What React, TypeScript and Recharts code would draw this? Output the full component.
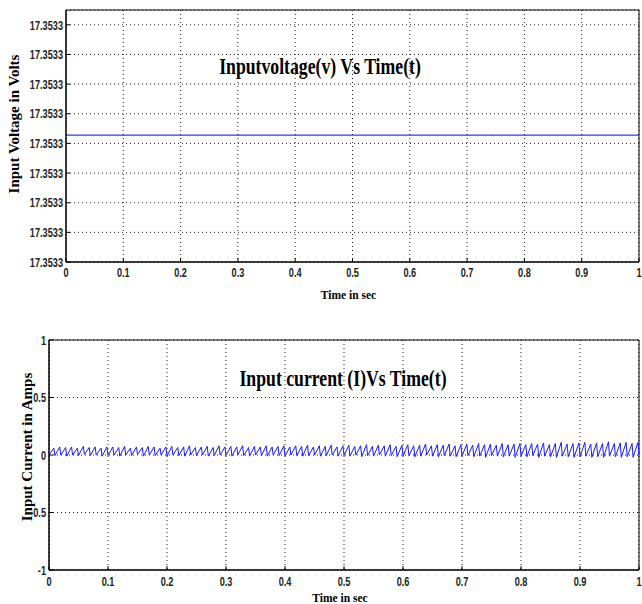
import React from "react";
import { CartesianGrid, Label, Line, LineChart, ReferenceArea, XAxis, YAxis } from "recharts";

// time axis (seconds), shared by both plots
const timeTicks = [0, 0.1, 0.2, 0.3, 0.4, 0.5, 0.6, 0.7, 0.8, 0.9, 1];

// input voltage: flat line, ticks all print as 17.3533
const voltageTime = [0, 0.25, 0.5, 0.75, 1];
const voltageValues = [17.35330428, 17.35330428, 17.35330428, 17.35330428, 17.35330428];
const voltageTicks = [
  17.3533, 17.353301, 17.353302, 17.353303, 17.353304, 17.353305, 17.353306, 17.353307, 17.353308,
];
const voltageDomain = [17.3533, 17.3533085];

// input current: ripple around zero, one tooth per 10 ms
const currentTicks = [-1, -0.5, 0, 0.5, 1];
const currentPeaks = [
  0.06, 0.07, 0.065, 0.07, 0.06, 0.075, 0.065, 0.07, 0.06, 0.07,
  0.07, 0.065, 0.075, 0.06, 0.07, 0.065, 0.075, 0.07, 0.06, 0.07,
  0.075, 0.065, 0.07, 0.08, 0.065, 0.07, 0.075, 0.065, 0.08, 0.07,
  0.075, 0.07, 0.08, 0.065, 0.075, 0.07, 0.08, 0.07, 0.075, 0.08,
  0.07, 0.08, 0.075, 0.085, 0.07, 0.08, 0.075, 0.085, 0.07, 0.08,
  0.085, 0.075, 0.08, 0.09, 0.075, 0.085, 0.08, 0.09, 0.075, 0.085,
  0.09, 0.08, 0.085, 0.095, 0.08, 0.09, 0.085, 0.095, 0.08, 0.09,
  0.095, 0.085, 0.1, 0.09, 0.095, 0.085, 0.1, 0.09, 0.095, 0.1,
  0.09, 0.1, 0.095, 0.105, 0.09, 0.1, 0.11, 0.095, 0.1, 0.105,
  0.11, 0.095, 0.105, 0.1, 0.115, 0.1, 0.105, 0.11, 0.1, 0.11,
];
const currentLows = [
  0, -0.005, 0, -0.01, 0, -0.005, 0.005, -0.005, 0, -0.01,
  -0.005, 0, -0.01, 0, -0.005, 0.005, -0.01, 0, -0.005, 0,
  -0.01, 0, -0.005, -0.01, 0, -0.005, 0, -0.01, -0.005, 0,
  -0.005, -0.01, 0, -0.005, -0.01, 0, -0.005, -0.01, 0, -0.005,
  -0.01, 0, -0.005, -0.01, -0.005, 0, -0.01, -0.005, 0, -0.01,
  -0.005, -0.01, 0, -0.015, -0.005, -0.01, 0, -0.01, -0.005, -0.015,
  -0.01, -0.005, -0.015, -0.01, 0, -0.01, -0.015, -0.005, -0.01, -0.015,
  -0.01, -0.005, -0.015, -0.01, -0.02, -0.005, -0.01, -0.015, -0.01, -0.02,
  -0.01, -0.015, -0.005, -0.02, -0.01, -0.015, -0.02, -0.01, -0.015, -0.02,
  -0.015, -0.01, -0.02, -0.015, -0.02, -0.01, -0.015, -0.02, -0.015, -0.02,
];
const TOOTH = 0.01;
const RISE = 0.0082;

const voltageData = voltageTime.map((t, i) => ({ t, v: voltageValues[i] }));
const currentData = [
  ...currentPeaks.flatMap((p, i) => [
    { t: i * TOOTH, a: currentLows[i] },
    { t: i * TOOTH + RISE, a: p },
  ]),
  { t: 1, a: 0 },
];

const SANS = '"Liberation Sans", Arial, sans-serif';
const SERIF = '"Liberation Serif", "Times New Roman", serif';
const fmtTime = (v: number) => String(Math.round(v * 10) / 10);

// narrow (squeezed) tick text, like the MATLAB export
function narrowTick(fmt: (v: number) => string, axis: "x" | "y") {
  return ({ x, y, payload }: any) => (
    <g transform={`translate(${x},${y}) scale(0.68,1)`}>
      <text
        x={0}
        y={0}
        dy={axis === "x" ? "0.71em" : "0.35em"}
        textAnchor={axis === "x" ? "middle" : "end"}
        fontFamily={SANS}
        fontWeight="bold"
        fontSize={13.5}
        fill="#222"
      >
        {fmt(payload.value)}
      </text>
    </g>
  );
}

function xLabel(dy: number) {
  return ({ viewBox }: any) => (
    <text
      x={viewBox.x + viewBox.width / 2 - 4}
      y={viewBox.y + dy}
      textAnchor="middle"
      fontFamily={SERIF}
      fontWeight="bold"
      fontSize={11.5}
      fill="#000"
    >
      Time in sec
    </text>
  );
}

function yLabel(text: string, x: number, shift: number) {
  return ({ viewBox }: any) => {
    const cy = viewBox.y + viewBox.height / 2 + shift;
    return (
      <text
        x={x}
        y={cy}
        transform={`rotate(-90 ${x} ${cy})`}
        textAnchor="middle"
        dominantBaseline="central"
        fontFamily={SERIF}
        fontWeight="bold"
        fontSize={15}
        fill="#000"
      >
        {text}
      </text>
    );
  };
}

function Title({ text, cx, top }: { text: string; cx: number; top: number }) {
  return (
    <div
      style={{
        position: "absolute",
        left: cx - 200,
        top,
        width: 400,
        textAlign: "center",
        fontFamily: SERIF,
        fontWeight: "bold",
        fontSize: 23,
        lineHeight: "24px",
        color: "#000",
        transform: "scaleX(0.77)",
        whiteSpace: "nowrap",
        pointerEvents: "none",
      }}
    >
      {text}
    </div>
  );
}

const tickLine = { stroke: "#000" };

export default function App() {
  return (
    <div style={{ position: "absolute", left: 0, top: 0, width: 642, height: 604, background: "#fff" }}>
      <div style={{ position: "absolute", left: 0, top: 0 }}>
        <LineChart width={642} height={310} data={voltageData} margin={{ top: 10, right: 3, bottom: 0, left: 0 }}>
          <CartesianGrid stroke="#222" strokeDasharray="1 3" />
          <XAxis
            dataKey="t"
            type="number"
            domain={[0, 1]}
            ticks={timeTicks}
            interval={0}
            tickLine={tickLine}
            tickSize={-4}
            tickMargin={9}
            height={48}
            axisLine={{ stroke: "#000" }}
            tick={narrowTick(fmtTime, "x")}
          >
            <Label content={xLabel(37)} />
          </XAxis>
          <YAxis
            type="number"
            domain={voltageDomain}
            ticks={voltageTicks}
            interval={0}
            allowDataOverflow
            tickLine={tickLine}
            tickSize={-4}
            tickMargin={7}
            width={66}
            axisLine={{ stroke: "#000" }}
            tick={narrowTick((v) => v.toFixed(4), "y")}
          >
            <Label content={yLabel("Input Voltage in Volts", 14, -12)} />
          </YAxis>
          <ReferenceArea x1={0} x2={1} y1={voltageDomain[0]} y2={voltageDomain[1]} fill="none" stroke="#000" strokeOpacity={1} fillOpacity={0} />
          <Line dataKey="v" stroke="#0000ff" strokeWidth={1} dot={false} isAnimationActive={false} />
        </LineChart>
      </div>
      <Title text="Inputvoltage(v) Vs Time(t)" cx={320} top={55} />

      <div style={{ position: "absolute", left: 0, top: 310 }}>
        <LineChart width={642} height={294} data={currentData} margin={{ top: 30, right: 3, bottom: 0, left: 0 }}>
          <CartesianGrid stroke="#222" strokeDasharray="1 3" />
          <XAxis
            dataKey="t"
            type="number"
            domain={[0, 1]}
            ticks={timeTicks}
            interval={0}
            tickLine={tickLine}
            tickSize={-4}
            tickMargin={10}
            height={34}
            axisLine={{ stroke: "#000" }}
            tick={narrowTick(fmtTime, "x")}
          >
            <Label content={xLabel(32)} />
          </XAxis>
          <YAxis
            type="number"
            domain={[-1, 1]}
            ticks={currentTicks}
            interval={0}
            tickLine={tickLine}
            tickSize={-4}
            tickMargin={7}
            width={49}
            axisLine={{ stroke: "#000" }}
            tick={narrowTick((v) => String(v), "y")}
          >
            <Label content={yLabel("Input Current in Amps", 27, -8)} />
          </YAxis>
          <ReferenceArea x1={0} x2={1} y1={-1} y2={1} fill="none" stroke="#000" strokeOpacity={1} fillOpacity={0} />
          <Line dataKey="a" stroke="#1a1aff" strokeWidth={1} dot={false} isAnimationActive={false} />
        </LineChart>
      </div>
      <Title text="Input current (I)Vs Time(t)" cx={343} top={367} />
    </div>
  );
}
